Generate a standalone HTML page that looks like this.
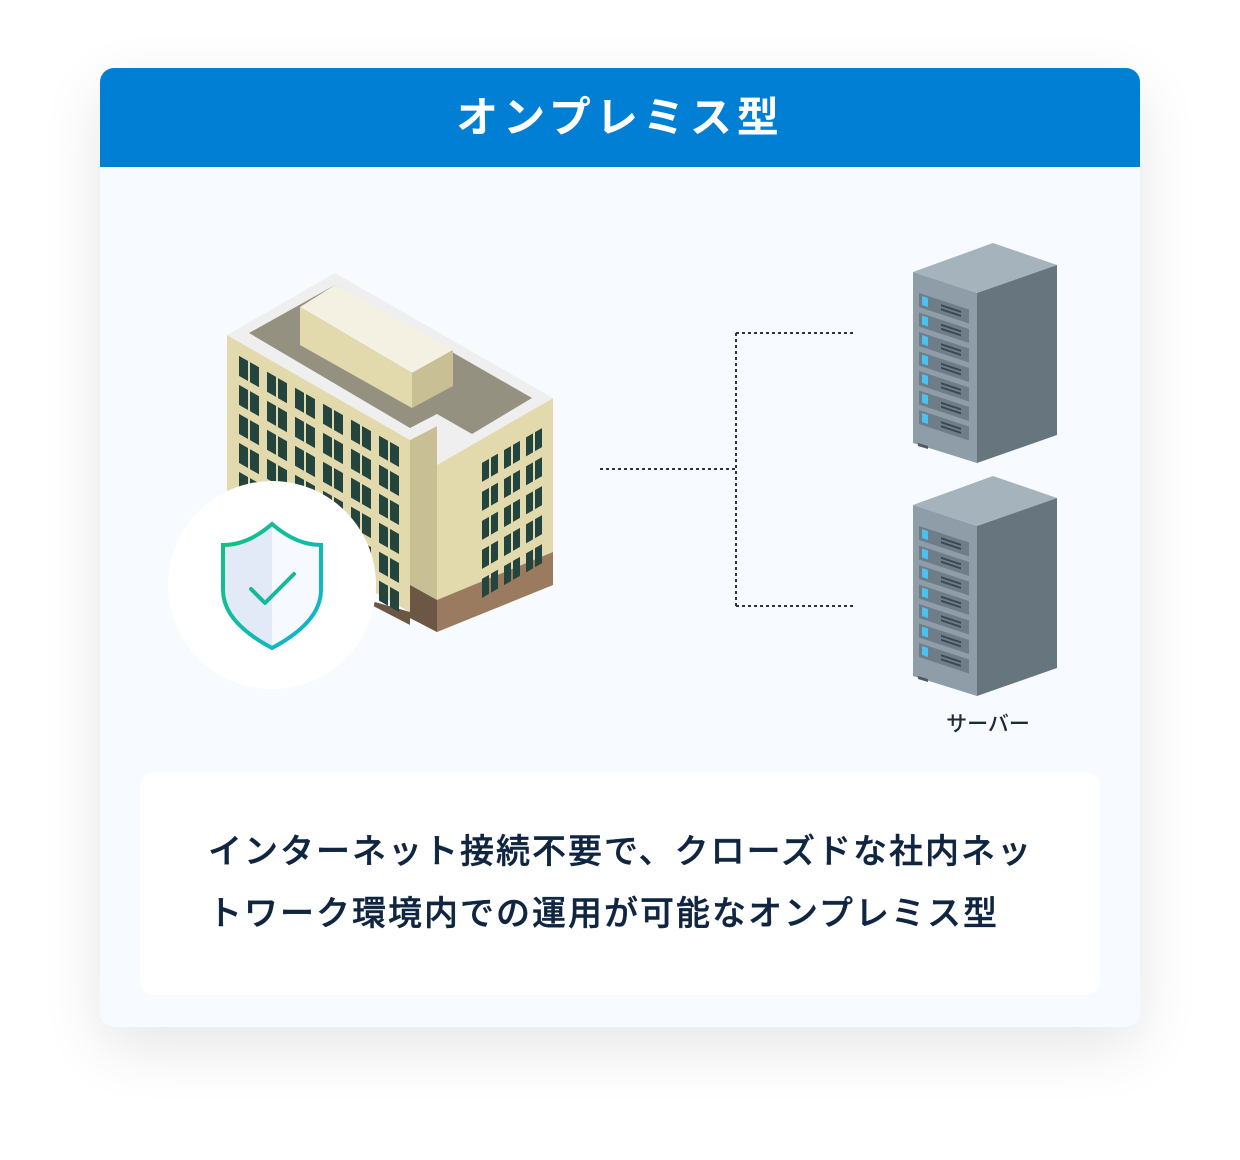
<!DOCTYPE html>
<html><head><meta charset="utf-8"><style>
html,body{margin:0;padding:0;background:#fff;}
body{width:1240px;height:1160px;position:relative;overflow:hidden;font-family:"Liberation Sans","Noto Sans CJK JP",sans-serif;}
.card{position:absolute;left:100px;top:68px;width:1040px;height:959px;border-radius:14px;background:#f7fbff;box-shadow:0 20px 60px rgba(0,0,0,0.10);overflow:hidden;}
.hdr{position:absolute;left:0;top:0;width:1040px;height:99px;background:#007fd4;color:#fff;font-size:42px;font-weight:700;letter-spacing:5px;text-align:center;line-height:99px;}
.box{position:absolute;left:40px;top:704px;width:960px;height:223px;background:#fff;border-radius:14px;}
.txt{position:absolute;left:208px;top:821px;font-size:34px;letter-spacing:2px;color:#0f2540;font-weight:500;line-height:62px;white-space:nowrap;-webkit-text-stroke:0.4px #0f2540;}
.lbl{position:absolute;left:938px;top:708px;font-size:21px;color:#1c2a3a;width:100px;text-align:center;font-weight:500;}
svg{position:absolute;left:0;top:0;}
</style></head><body>
<div class="card">
 <div class="hdr">オンプレミス型</div>
 <div class="box"></div>
</div>
<svg width="1240" height="1160" viewBox="0 0 1240 1160">
 <g stroke="#333" stroke-width="2" stroke-dasharray="3,3" fill="none">
  <line x1="600" y1="469" x2="736" y2="469"/>
  <line x1="736" y1="333" x2="736" y2="606"/>
  <line x1="736" y1="333" x2="856" y2="333"/>
  <line x1="736" y1="606" x2="856" y2="606"/>
 </g>
 <polygon points="227,335 410,440 410,612 227,510" fill="#e2d9ad"/>
 <polygon points="227,560 410,612 410,625 227,530" fill="#6b5743"/>
 <polygon points="410,440 437,426 437,632 410,618" fill="#c8bf94"/>
 <polygon points="437,465 553,398 553,585 437,632" fill="#e2d9ad"/>
 <polygon points="437,600 553,552 553,585 437,632" fill="#9b7b60"/>
 <polygon points="410,585 437,600 437,632 410,618" fill="#6b5743"/>
 <polygon points="227,335 335,273 553,398 437,465 437,426 410,440" fill="#efefef"/>
 <polygon points="249,333 335,285 532,398 472,434 437,414 410,428" fill="#959181"/>
 <polygon points="300,307 335,285 453,350 412,373" fill="#f4f1e3"/>
 <polygon points="300,307 412,373 412,408 300,345" fill="#e2d9ad"/>
 <polygon points="412,373 453,350 453,386 412,408" fill="#c8bf94"/>
 <g transform="matrix(1,0.57,0,1,227,335)" fill="#24443e">
  <g id="lrow">
   <rect x="12" y="14" width="9" height="20"/><rect x="23" y="14" width="9" height="20"/>
   <rect x="40" y="14" width="9" height="20"/><rect x="51" y="14" width="9" height="20"/>
   <rect x="68" y="14" width="9" height="20"/><rect x="79" y="14" width="9" height="20"/>
   <rect x="96" y="14" width="9" height="20"/><rect x="107" y="14" width="9" height="20"/>
   <rect x="124" y="14" width="9" height="20"/><rect x="135" y="14" width="9" height="20"/>
   <rect x="152" y="14" width="9" height="20"/><rect x="163" y="14" width="9" height="20"/>
  </g>
  <use href="#lrow" y="29"/><use href="#lrow" y="58"/><use href="#lrow" y="87"/><use href="#lrow" y="116"/><use href="#lrow" y="145"/>
 </g>
 <g transform="matrix(1,-0.58,0,1,437,465)" fill="#24443e">
  <g id="rrow">
   <rect x="45" y="24" width="7" height="19"/><rect x="54" y="24" width="7" height="19"/>
   <rect x="67" y="24" width="7" height="19"/><rect x="76" y="24" width="7" height="19"/>
   <rect x="89" y="24" width="7" height="19"/><rect x="98" y="24" width="7" height="19"/>
  </g>
  <use href="#rrow" y="29"/><use href="#rrow" y="58"/><use href="#rrow" y="87"/><use href="#rrow" y="116"/>
 </g>
 <circle cx="272" cy="585" r="104" fill="#fff"/>
 <defs><linearGradient id="g" x1="0" y1="0" x2="1" y2="1"><stop offset="0" stop-color="#12c27a"/><stop offset="1" stop-color="#10b4d6"/></linearGradient></defs>
 <path d="M272,524 Q248,545 223,545 L223,590 Q223,622 272,648 Z" fill="#e2eaf8"/>
 <path d="M272,524 Q296,545 321,545 L321,590 Q321,622 272,648 Z" fill="#f6f9ff"/>
 <path d="M272,524 Q248,545 223,545 L223,590 Q223,622 272,648 Q321,622 321,590 L321,545 Q296,545 272,524 Z" fill="none" stroke="url(#g)" stroke-width="4"/>
 <polyline points="251,589 265,603 294,574" fill="none" stroke="#15b99a" stroke-width="4" stroke-linecap="round" stroke-linejoin="round"/>
 <g id="srv">
  <polygon points="913,272 993,243 1057,265 977,293" fill="#a5b3bc"/>
  <polygon points="913,272 977,293 977,463 913,443" fill="#8e9da8"/>
  <polygon points="977,293 1057,265 1057,435 977,463" fill="#67757e"/>
  <polygon points="918,443 928,446 928,449 918,446" fill="#556"/>
  <g transform="matrix(1,0.33,0,1,913,272)">
   <g id="bay"><rect x="6" y="19" width="50" height="14" fill="#6e7d87"/><rect x="9" y="21" width="6" height="9" fill="#4cc1f0"/><g fill="#3b4850"><rect x="28" y="23" width="20" height="2"/><rect x="28" y="27" width="20" height="2"/></g></g>
   <use href="#bay" y="19.5"/><use href="#bay" y="39"/><use href="#bay" y="58.5"/><use href="#bay" y="78"/><use href="#bay" y="97.5"/><use href="#bay" y="117"/>
  </g>
 </g>
 <use href="#srv" y="233"/>
</svg>
<div class="lbl">サーバー</div>
<div class="txt">インターネット接続不要で、クローズドな社内ネッ<br>トワーク環境内での運用が可能なオンプレミス型</div>
</body></html>
